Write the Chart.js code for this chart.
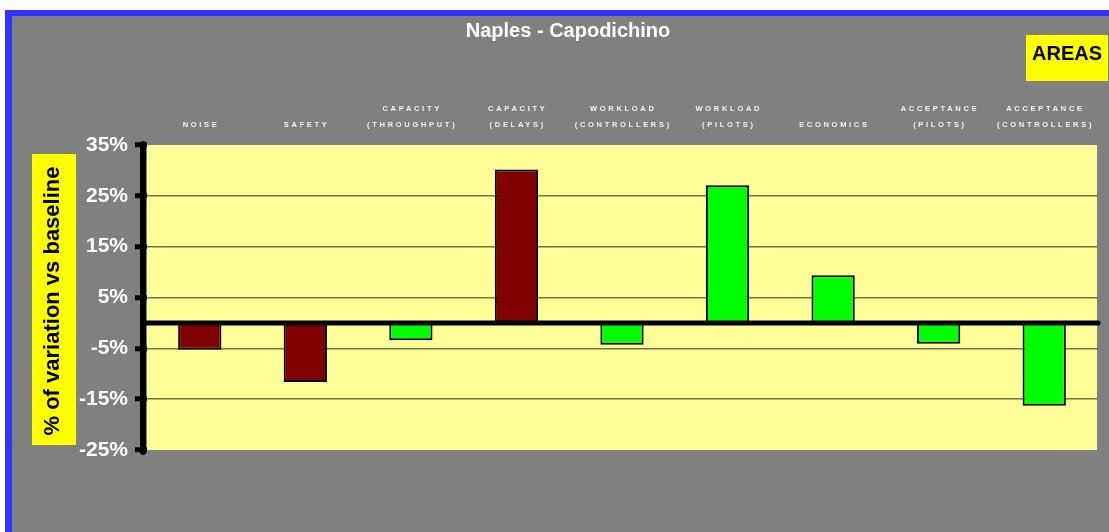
<!DOCTYPE html>
<html>
<head>
<meta charset="utf-8">
<script src="https://cdn.jsdelivr.net/npm/chart.js@4"></script>
<style>
  html, body { margin: 0; padding: 0; background: #ffffff; }
  canvas { display: block; }
</style>
</head>
<body>
<canvas id="areas-chart" width="1109" height="532"></canvas>
<script>
// Categories (two-line labels as in the original)
const areas = [
    ['NOISE'],
    ['SAFETY'],
    ['CAPACITY', '(THROUGHPUT)'],
    ['CAPACITY', '(DELAYS)'],
    ['WORKLOAD', '(CONTROLLERS)'],
    ['WORKLOAD', '(PILOTS)'],
    ['ECONOMICS'],
    ['ACCEPTANCE', '(PILOTS)'],
    ['ACCEPTANCE', '(CONTROLLERS)'],
];

// % of variation vs baseline
const variation = [-5.3, -11.6, -3.4, 30.2, -4.3, 27.1, 9.4, -4.1, -16.3];

// y axis ticks
const yMin = -25;
const yMax = 35;
const yStep = 10;

const barColors = ['#800000', '#800000', '#00ff00', '#800000', '#00ff00', '#00ff00', '#00ff00', '#00ff00', '#00ff00'];

// Background, frame, title and labels drawn around the plot
const decorPlugin = {
    id: 'decor',
    beforeDraw(chart) {
        const ctx = chart.ctx;
        const area = chart.chartArea;
        ctx.save();
        ctx.fillStyle = '#ffffff';
        ctx.fillRect(0, 0, chart.width, chart.height);
        ctx.fillStyle = '#3333ff';
        ctx.fillRect(5, 10, chart.width - 5, chart.height - 10);
        ctx.fillStyle = '#808080';
        ctx.fillRect(12, 16, chart.width - 12, chart.height - 16);
        ctx.fillStyle = '#ffff99';
        ctx.fillRect(area.left, area.top, area.right - area.left, area.bottom - area.top);

        // title
        ctx.fillStyle = '#ffffff';
        ctx.font = 'bold 20px "Liberation Sans", Arial, sans-serif';
        ctx.textAlign = 'center';
        ctx.textBaseline = 'middle';
        ctx.fillText('Naples - Capodichino', 568, 31);

        // AREAS box
        ctx.fillStyle = '#ffff00';
        ctx.fillRect(1026, 35, 82, 46);
        ctx.fillStyle = '#000000';
        ctx.fillText('AREAS', 1067, 54);

        // y axis title box
        ctx.fillStyle = '#ffff00';
        ctx.fillRect(32, 154, 44, 291);
        ctx.translate(53, 301);
        ctx.rotate(-Math.PI / 2);
        ctx.fillStyle = '#000000';
        ctx.font = 'bold 22px "Liberation Sans", Arial, sans-serif';
        ctx.fillText('% of variation vs baseline', 0, 0);
        ctx.restore();

        // category labels above the plot
        const x = chart.scales.x;
        ctx.save();
        ctx.fillStyle = '#f2f2f2';
        ctx.font = 'bold 7.5px "Liberation Sans", Arial, sans-serif';
        ctx.letterSpacing = '2.7px';
        ctx.textAlign = 'center';
        ctx.textBaseline = 'middle';
        areas.forEach((lines, i) => {
            const cx = x.getPixelForValue(i) + 1.3;
            lines.forEach((txt, j) => {
                const y = 125 - (lines.length - 1 - j) * 16;
                ctx.fillText(txt, cx, y);
            });
        });
        ctx.restore();
    },
    afterDatasetsDraw(chart) {
        const ctx = chart.ctx;
        const area = chart.chartArea;
        const y0 = chart.scales.y.getPixelForValue(0);
        ctx.save();
        ctx.strokeStyle = '#000000';
        ctx.lineCap = 'round';
        // zero line
        ctx.lineWidth = 5;
        ctx.beginPath();
        ctx.moveTo(area.left, y0);
        ctx.lineTo(area.right + 1, y0);
        ctx.stroke();
        // thick y axis
        ctx.lineWidth = 6;
        ctx.beginPath();
        ctx.moveTo(area.left - 4, area.top - 1);
        ctx.lineTo(area.left - 4, area.bottom + 2);
        ctx.stroke();
        ctx.restore();
    },
};

const ctxAreas = document.getElementById('areas-chart').getContext('2d');
const areasChart = new Chart(ctxAreas, {
    type: 'bar',
    data: {
        labels: areas,
        datasets: [
            {
                label: '% of variation vs baseline',
                data: variation,
                backgroundColor: barColors,
                borderColor: '#000000',
                borderWidth: 2,
                borderSkipped: false,
                barPercentage: 0.41,
                categoryPercentage: 1,
            },
        ],
    },
    options: {
        responsive: false,
        animation: false,
        devicePixelRatio: 1,
        layout: {
            padding: { left: 0, top: 145, right: 12, bottom: 82 },
        },
        scales: {
            x: {
                display: false,
            },
            y: {
                min: yMin,
                max: yMax,
                afterFit: (scale) => { scale.width = 147; },
                ticks: {
                    stepSize: yStep,
                    padding: 7,
                    color: '#ffffff',
                    font: { family: '"Liberation Sans", Arial, sans-serif', size: 21, weight: 'bold' },
                    callback: (v) => v + '%',
                },
                grid: {
                    color: (c) => (c.tick && (c.tick.value === yMax || c.tick.value === yMin)) ? 'rgba(0,0,0,0)' : 'rgba(0,0,0,0.55)',
                    lineWidth: 1.5,
                    tickColor: '#000000',
                    tickWidth: 5,
                    tickLength: 12,
                },
                border: { display: false },
            },
        },
        plugins: {
            legend: { display: false },
            tooltip: { enabled: false },
        },
    },
    plugins: [decorPlugin],
});
</script>
</body>
</html>
